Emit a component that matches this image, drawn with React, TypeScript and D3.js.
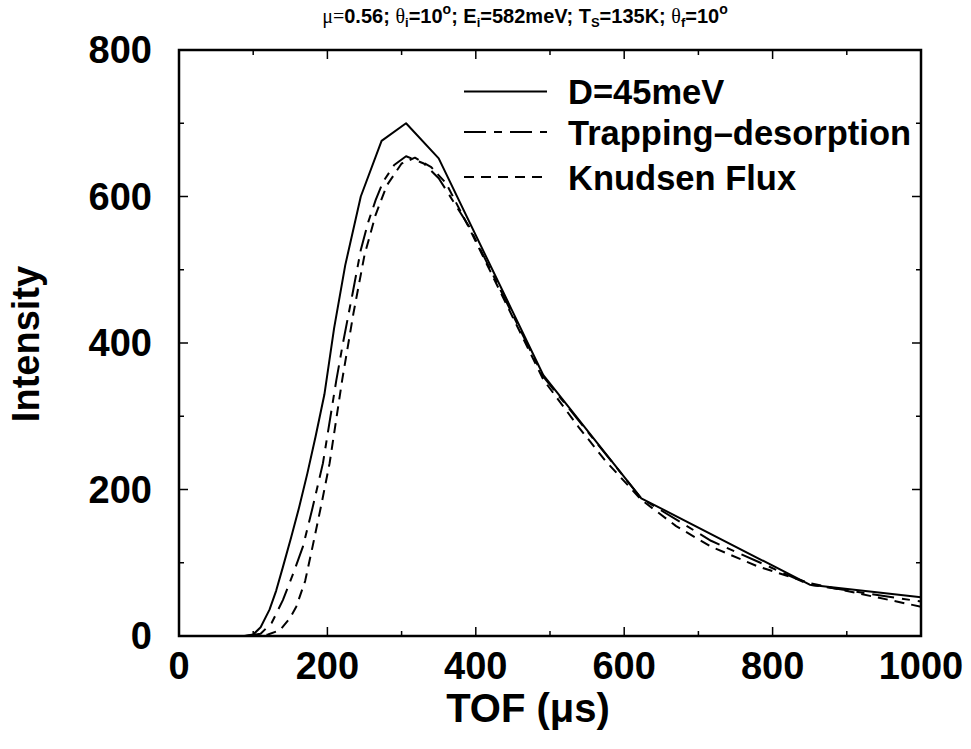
import React from "react";
import * as d3 from "d3";

const xTicks = [0, 200, 400, 600, 800, 1000];
const yTicks = [0, 200, 400, 600, 800];
const minorStep = 100;

const seriesNames = ["D=45meV", "Trapping\u2013desorption", "Knudsen Flux"];

const tofD45 = [88, 100, 110, 122, 131, 140, 151, 162, 173, 184, 196, 209, 224, 245, 273, 306, 350, 491, 623, 850, 1000];
const intD45 = [0, 2, 12, 36, 62, 94, 134, 176, 222, 272, 330, 420, 506, 600, 676, 700, 652, 356, 188, 70, 53];

const tofTrap = [90, 110, 125, 140, 155, 167, 180, 194, 212, 221, 234, 245, 255, 265, 275, 290, 306, 330, 350, 391, 491, 623, 717, 850, 1000];
const intTrap = [0, 3, 18, 49, 88, 122, 175, 236, 349, 400, 468, 527, 565, 595, 620, 643, 655, 645, 625, 559, 354, 188, 130, 70, 47];

const tofKnud = [95, 120, 136, 150, 158, 170, 180, 192, 203, 220, 235, 250, 265, 280, 300, 318, 340, 360, 391, 491, 538, 574, 623, 670, 717, 780, 851, 1000];
const intKnud = [0, 2, 8, 25, 40, 75, 122, 180, 236, 350, 440, 520, 575, 615, 645, 653, 640, 618, 557, 350, 286, 240, 186, 150, 122, 95, 72, 40];

const FONT = "'Liberation Sans', Arial, Helvetica, sans-serif";

export default function App() {
  const W = 971, H = 749;
  const L = 179, R = 921, T = 50, B = 636;
  const x = d3.scaleLinear().domain([0, 1000]).range([L, R]);
  const y = d3.scaleLinear().domain([0, 800]).range([B, T]);

  const line = d3.line<[number, number]>().x(d => x(d[0])).y(d => y(d[1]));
  const series = [
    { t: tofD45, v: intD45, dash: "none" },
    { t: tofTrap, v: intTrap, dash: "22 8 8 8" },
    { t: tofKnud, v: intKnud, dash: "10 7" },
  ];

  const xMinor = d3.range(0, 1001, minorStep);
  const yMinor = d3.range(0, 801, minorStep);
  const major = 9, minor = 5;

  const legRows = [91.5, 132, 177];

  return (
    <svg width={W} height={H} style={{ position: "absolute", left: 0, top: 0 }} fontFamily={FONT}>
      <rect width={W} height={H} fill="#fff" />
      {xMinor.map(v => {
        const len = v % 200 === 0 ? major : minor;
        return (
          <g key={"xt" + v}>
            <line x1={x(v)} x2={x(v)} y1={B} y2={B - len} stroke="#000" strokeWidth={1.5} />
            <line x1={x(v)} x2={x(v)} y1={T} y2={T + len} stroke="#000" strokeWidth={1.5} />
          </g>
        );
      })}
      {yMinor.map(v => {
        const len = v % 200 === 0 ? major : minor;
        return (
          <g key={"yt" + v}>
            <line x1={L} x2={L + len} y1={y(v)} y2={y(v)} stroke="#000" strokeWidth={1.5} />
            <line x1={R} x2={R - len} y1={y(v)} y2={y(v)} stroke="#000" strokeWidth={1.5} />
          </g>
        );
      })}
      {series.map((s, i) => (
        <path
          key={"s" + i}
          d={line(s.t.map((t, j) => [t, s.v[j]] as [number, number])) || ""}
          fill="none"
          stroke="#000"
          strokeWidth={2}
          strokeDasharray={s.dash}
          strokeLinejoin="round"
        />
      ))}
      <rect x={L} y={T} width={R - L} height={B - T} fill="none" stroke="#000" strokeWidth={2.5} />
      {xTicks.map(v => (
        <text key={"xl" + v} x={x(v)} y={679} textAnchor="middle" fontSize={38} fontWeight="bold">{v}</text>
      ))}
      {yTicks.map(v => (
        <text key={"yl" + v} x={152} y={y(v) + 13} textAnchor="end" fontSize={38} fontWeight="bold">{v}</text>
      ))}
      <text x={528} y={722} textAnchor="middle" fontSize={40} fontWeight="bold">TOF (μs)</text>
      <text transform={`translate(39,344) rotate(-90)`} textAnchor="middle" fontSize={38} fontWeight="bold">Intensity</text>
      <text x={525} y={23} textAnchor="middle" fontSize={20} fontWeight="bold">
        <tspan fontWeight="normal" fontFamily="'Liberation Serif', serif">μ=</tspan>
        <tspan>0.56; </tspan>
        <tspan fontWeight="normal" fontFamily="'Liberation Serif', serif">θ</tspan>
        <tspan dy={4} fontSize={13}>i</tspan>
        <tspan dy={-4}>=10</tspan>
        <tspan dy={-9} fontSize={14}>o</tspan>
        <tspan dy={9}>; E</tspan>
        <tspan dy={4} fontSize={13}>i</tspan>
        <tspan dy={-4}>=582meV; T</tspan>
        <tspan dy={4} fontSize={13}>S</tspan>
        <tspan dy={-4}>=135K; </tspan>
        <tspan fontWeight="normal" fontFamily="'Liberation Serif', serif">θ</tspan>
        <tspan dy={4} fontSize={13}>f</tspan>
        <tspan dy={-4}>=10</tspan>
        <tspan dy={-9} fontSize={14}>o</tspan>
      </text>
      {seriesNames.map((n, i) => (
        <g key={"lg" + i}>
          <line x1={464} x2={547} y1={legRows[i]} y2={legRows[i]} stroke="#000" strokeWidth={2} strokeDasharray={series[i].dash} />
          <text x={568} y={legRows[i] + 12.5} fontSize={34.5} fontWeight="bold">{n}</text>
        </g>
      ))}
    </svg>
  );
}
